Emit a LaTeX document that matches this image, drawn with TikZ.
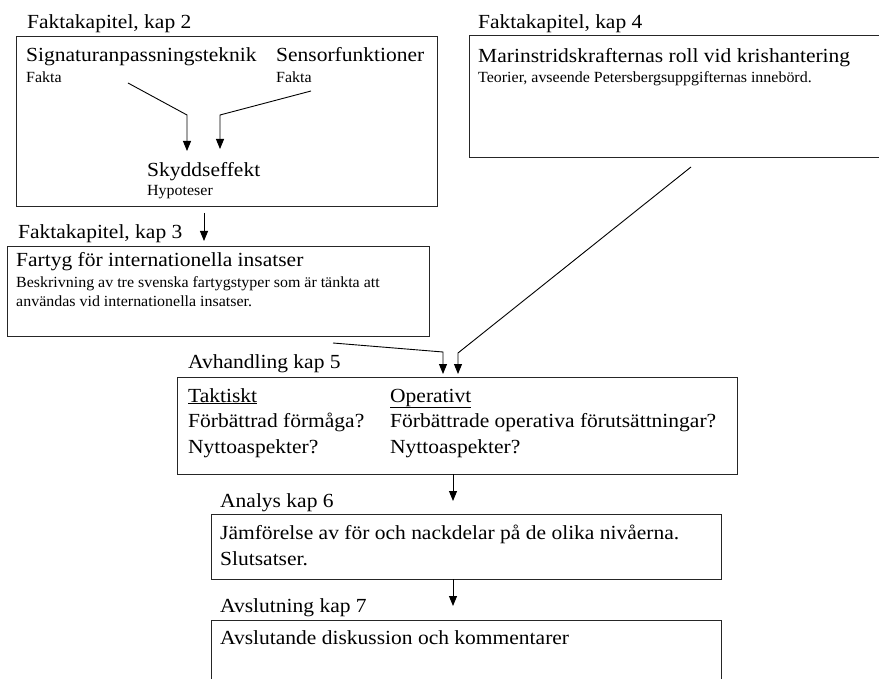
\documentclass[tikz,border=0pt]{standalone}
\usepackage{fontspec}
\setmainfont{Liberation Serif}
\newfontfamily\storfont[FakeStretch=1.075]{Liberation Serif}
\newfontfamily\litenfont[FakeStretch=1.03]{Liberation Serif}
\usetikzlibrary{arrows.meta}
\begin{document}
\begin{tikzpicture}[x=1pt,y=-1pt,
	box/.style={draw=black!85,line width=1.2pt,anchor=north west,inner sep=0pt},
	big/.style={anchor=base west,inner sep=0pt,font=\storfont\fontsize{20}{26}\selectfont},
	small/.style={anchor=base west,inner sep=0pt,font=\litenfont\fontsize{15.5}{19}\selectfont},
	pil/.style={-{Triangle[width=8pt,length=10pt]},line width=0.9pt}]
	\useasboundingbox (0,0) rectangle (879,679);
	\clip (0,0) rectangle (879,679);
	\node[box,minimum width=421pt,minimum height=170pt] (kap2) at (16,36) {};
	\node[box,minimum width=412pt,minimum height=122pt] (kap4) at (469,35) {};
	\node[box,minimum width=422pt,minimum height=90pt] (kap3) at (7,246) {};
	\node[box,minimum width=560pt,minimum height=97pt] (kap5) at (177,377) {};
	\node[box,minimum width=510pt,minimum height=65pt] (kap6) at (211,514) {};
	\node[box,minimum width=510pt,minimum height=90pt] (kap7) at (211,620) {};
	\node[big] (t2) at (27,29) {Faktakapitel, kap 2};
	\node[big] (sig) at (26,62) {Signaturanpassningsteknik};
	\node[small] (sigf) at (26,83) {Fakta};
	\node[big] (sens) at (276,62) {Sensorfunktioner};
	\node[small] (sensf) at (276,83) {Fakta};
	\node[big] (skydd) at (147,177) {Skyddseffekt};
	\node[small] (hyp) at (147,196) {Hypoteser};
	\node[big] (t4) at (478,29) {Faktakapitel, kap 4};
	\node[big] (marin) at (478,63) {Marinstridskrafternas roll vid krishantering};
	\node[small] (teori) at (478,83) {Teorier, avseende Petersbergsuppgifternas innebörd.};
	\node[big] (t3) at (18,239) {Faktakapitel, kap 3};
	\node[big] (fartyg) at (16,267) {Fartyg för internationella insatser};
	\node[small] (besk1) at (16,288) {Beskrivning av tre svenska fartygstyper som är tänkta att};
	\node[small] (besk2) at (16,307) {användas vid internationella insatser.};
	\node[big] (t5) at (188,369) {Avhandling kap 5};
	\node[big] (takt) at (188,402) {\underline{Taktiskt}};
	\node[big] (takt1) at (188,427) {Förbättrad förmåga?};
	\node[big] (takt2) at (188,453) {Nyttoaspekter?};
	\node[big] (oper) at (390,402) {\underline{Operativt}};
	\node[big] (oper1) at (390,427) {Förbättrade operativa förutsättningar?};
	\node[big] (oper2) at (390,453) {Nyttoaspekter?};
	\node[big] (t6) at (220,507) {Analys kap 6};
	\node[big] (jamf) at (220,539) {Jämförelse av för och nackdelar på de olika nivåerna.};
	\node[big] (slut) at (220,565) {Slutsatser.};
	\node[big] (t7) at (220,612) {Avslutning kap 7};
	\node[big] (avsl) at (220,644) {Avslutande diskussion och kommentarer};
	\coordinate (a1) at (128,83);
	\coordinate (b1) at (187,115);
	\coordinate (c1) at (187,151);
	\coordinate (a2) at (311,91);
	\coordinate (b2) at (220,115);
	\coordinate (c2) at (220,149);
	\coordinate (a3) at (204,213);
	\coordinate (c3) at (204,241);
	\coordinate (a4) at (333,343);
	\coordinate (b4) at (443,352);
	\coordinate (c4) at (443,374);
	\coordinate (a5) at (691,167);
	\coordinate (b5) at (458,353);
	\coordinate (c5) at (458,374);
	\coordinate (a6) at (453,474);
	\coordinate (c6) at (453,501);
	\coordinate (a7) at (453,579);
	\coordinate (c7) at (453,606);
	\draw[pil] (a1) -- (b1) -- (c1);
	\draw[pil] (a2) -- (b2) -- (c2);
	\draw[pil] (a3) -- (c3);
	\draw[pil] (a4) -- (b4) -- (c4);
	\draw[pil] (a5) -- (b5) -- (c5);
	\draw[pil] (a6) -- (c6);
	\draw[pil] (a7) -- (c7);
\end{tikzpicture}
\end{document}
